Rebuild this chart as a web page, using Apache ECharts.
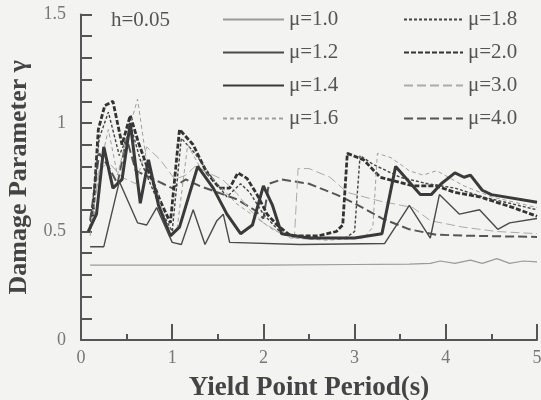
<!DOCTYPE html>
<html>
<head>
<meta charset="utf-8">
<script src="https://cdn.jsdelivr.net/npm/echarts@6/dist/echarts.min.js"></script>
<style>
  html, body { margin: 0; padding: 0; background: #f3f3f1; }
  #chart { width: 541px; height: 400px; }
</style>
</head>
<body>
<div id="chart"></div>
<script>
// Damage parameter gamma versus yield point period, h = 0.05
const names = ['μ=1.0', 'μ=1.2', 'μ=1.4', 'μ=1.6', 'μ=1.8', 'μ=2.0', 'μ=3.0', 'μ=4.0'];

const periodMu10 = [0.1, 1.0, 2.0, 3.0, 3.6, 3.83, 3.94, 4.1, 4.27, 4.4, 4.56, 4.7, 4.85, 5.0];
const gammaMu10  = [0.345, 0.345, 0.345, 0.348, 0.35, 0.353, 0.364, 0.353, 0.368, 0.353, 0.375, 0.353, 0.364, 0.36];

const periodMu12 = [0.1, 0.25, 0.42, 0.62, 0.72, 0.83, 1.0, 1.1, 1.23, 1.36, 1.49, 1.56, 1.63, 2.4, 3.33, 3.6, 3.83, 3.93, 4.15, 4.37, 4.57, 4.7, 5.0];
const gammaMu12  = [0.43, 0.43, 0.73, 0.54, 0.53, 0.61, 0.45, 0.44, 0.6, 0.44, 0.55, 0.58, 0.45, 0.44, 0.445, 0.62, 0.47, 0.67, 0.58, 0.6, 0.51, 0.54, 0.56];

const periodMu14 = [0.08, 0.17, 0.25, 0.35, 0.45, 0.54, 0.65, 0.74, 0.85, 0.98, 1.08, 1.28, 1.45, 1.6, 1.75, 1.88, 2.0, 2.1, 2.2, 2.5, 3.0, 3.3, 3.45, 3.72, 3.84, 3.95, 4.1, 4.2, 4.27, 4.4, 4.5, 5.0];
const gammaMu14  = [0.5, 0.58, 0.89, 0.70, 0.74, 1.0, 0.63, 0.83, 0.62, 0.48, 0.52, 0.8, 0.7, 0.58, 0.49, 0.53, 0.71, 0.62, 0.49, 0.47, 0.47, 0.49, 0.80, 0.67, 0.67, 0.72, 0.77, 0.75, 0.76, 0.69, 0.67, 0.635];

const periodMu16 = [0.1, 0.2, 0.3, 0.4, 0.5, 0.62, 0.72, 0.82, 0.95, 1.05, 1.17, 1.3, 1.5, 1.7, 1.9, 2.1, 2.3, 2.7, 3.1, 3.2, 3.25, 3.4, 3.6, 3.75, 3.9, 4.2, 4.5, 5.0];
const gammaMu16  = [0.48, 0.78, 0.97, 0.76, 0.93, 1.11, 0.82, 0.70, 0.52, 0.50, 0.90, 0.80, 0.72, 0.63, 0.57, 0.51, 0.47, 0.46, 0.47, 0.52, 0.86, 0.84, 0.78, 0.76, 0.78, 0.71, 0.66, 0.61];

const periodMu18 = [0.1, 0.2, 0.3, 0.42, 0.55, 0.65, 0.78, 0.9, 1.0, 1.1, 1.25, 1.45, 1.6, 1.75, 1.85, 2.0, 2.2, 2.5, 2.9, 3.0, 3.06, 3.2, 3.5, 3.8, 4.1, 4.4, 4.7, 5.0];
const gammaMu18  = [0.52, 0.93, 1.05, 0.85, 0.98, 0.83, 0.70, 0.58, 0.50, 0.93, 0.86, 0.74, 0.66, 0.72, 0.68, 0.58, 0.49, 0.47, 0.47, 0.50, 0.85, 0.81, 0.75, 0.72, 0.70, 0.66, 0.63, 0.60];

const periodMu20 = [0.13, 0.19, 0.26, 0.35, 0.45, 0.54, 0.63, 0.74, 0.87, 0.98, 1.08, 1.23, 1.38, 1.52, 1.63, 1.72, 1.82, 1.93, 2.04, 2.15, 2.3, 2.6, 2.8, 2.87, 2.92, 3.1, 3.28, 3.64, 3.9, 4.1, 4.37, 4.74, 5.0];
const gammaMu20  = [0.57, 0.97, 1.08, 1.10, 0.90, 1.035, 0.91, 0.78, 0.64, 0.54, 0.97, 0.90, 0.77, 0.70, 0.70, 0.77, 0.745, 0.67, 0.58, 0.53, 0.48, 0.48, 0.50, 0.53, 0.86, 0.83, 0.75, 0.71, 0.71, 0.68, 0.66, 0.61, 0.57];

const periodMu30 = [0.1, 0.2, 0.3, 0.45, 0.6, 0.72, 0.87, 1.03, 1.15, 1.25, 1.4, 1.55, 1.7, 1.85, 2.0, 2.2, 2.34, 2.38, 2.5, 2.73, 2.92, 3.28, 3.64, 3.83, 4.19, 4.56, 5.0];
const gammaMu30  = [0.50, 0.78, 0.82, 0.75, 0.72, 0.89, 0.83, 0.74, 0.76, 0.80, 0.77, 0.74, 0.68, 0.60, 0.54, 0.49, 0.47, 0.79, 0.79, 0.75, 0.68, 0.64, 0.61, 0.55, 0.52, 0.50, 0.49];

const periodMu40 = [0.1, 0.2, 0.3, 0.4, 0.5, 0.6, 0.75, 0.9, 1.0, 1.15, 1.3, 1.5, 1.7, 1.9, 2.0, 2.06, 2.2, 2.5, 2.8, 3.0, 3.3, 3.6, 3.9, 4.3, 5.0];
const gammaMu40  = [0.55, 0.86, 0.80, 0.72, 0.93, 0.78, 0.75, 0.72, 0.70, 0.74, 0.71, 0.68, 0.65, 0.60, 0.56, 0.72, 0.74, 0.72, 0.67, 0.63, 0.56, 0.51, 0.485, 0.48, 0.475];

const xTicks = [0, 1, 2, 3, 4, 5];
const yTicks = [0, 0.5, 1, 1.5];

const periods = [periodMu10, periodMu12, periodMu14, periodMu16, periodMu18, periodMu20, periodMu30, periodMu40];
const gammas  = [gammaMu10, gammaMu12, gammaMu14, gammaMu16, gammaMu18, gammaMu20, gammaMu30, gammaMu40];

// line appearance per ductility level
const styles = [
  { color: '#9a9a9a', width: 1.2, type: 'solid' },
  { color: '#4a4a4a', width: 1.4, type: 'solid' },
  { color: '#3a3a3a', width: 3,   type: 'solid' },
  { color: '#a0a0a0', width: 1,   type: [4, 3] },
  { color: '#444444', width: 1.4, type: [3, 2] },
  { color: '#333333', width: 2.8, type: [5, 2] },
  { color: '#ababab', width: 1,   type: [9, 4] },
  { color: '#555555', width: 2,   type: [9, 4] }
];

const serif = '"Liberation Serif", "Times New Roman", serif';

const series = names.map((name, i) => ({
  name: name,
  type: 'line',
  symbol: 'none',
  data: periods[i].map((t, k) => [t, gammas[i][k]]),
  lineStyle: { color: styles[i].color, width: styles[i].width, type: styles[i].type },
  itemStyle: { color: styles[i].color },
  z: 10 - i
}));

// legend shows only the line sample, no marker
const legendCommon = {
  orient: 'vertical',
  padding: 0,
  itemHeight: 14,
  itemGap: 12,
  itemStyle: { opacity: 0 },
  textStyle: { fontFamily: serif, fontSize: 21, color: '#555' },
  selectedMode: false
};

const chart = echarts.init(document.getElementById('chart'));
chart.setOption({
  animation: false,
  backgroundColor: '#f3f3f1',
  title: {
    text: 'h=0.05',
    left: 106,
    top: 5,
    textStyle: { fontFamily: serif, fontSize: 21, fontWeight: 'normal', color: '#555' }
  },
  legend: [
    Object.assign({}, legendCommon, { data: names.slice(0, 4), left: 222, top: 9, itemWidth: 61 }),
    Object.assign({}, legendCommon, { data: names.slice(4), left: 403, top: 9, itemWidth: 59 })
  ],
  grid: { left: 81, right: 4, top: 14.5, bottom: 60, outerBoundsMode: 'none', containLabel: false },
  xAxis: {
    type: 'value',
    min: xTicks[0],
    max: xTicks[xTicks.length - 1],
    interval: 1,
    name: 'Yield Point Period(s)',
    nameLocation: 'middle',
    nameGap: 35,
    nameTextStyle: { fontFamily: serif, fontSize: 27, fontWeight: 'bold', color: '#444' },
    axisLine: { lineStyle: { color: '#555', width: 2 } },
    axisTick: { inside: true, length: 16, lineStyle: { color: '#555', width: 2 } },
    minorTick: { show: true, splitNumber: 2, length: 6, lineStyle: { color: '#555', width: 2 } },
    axisLabel: { fontFamily: serif, fontSize: 18, color: '#777', margin: 9 },
    splitLine: { show: false }
  },
  yAxis: {
    type: 'value',
    min: yTicks[0],
    max: yTicks[yTicks.length - 1],
    interval: 0.5,
    name: 'Damage Parameter γ',
    nameLocation: 'middle',
    nameGap: 48,
    nameTextStyle: { fontFamily: serif, fontSize: 26, fontWeight: 'bold', color: '#444' },
    axisLine: { lineStyle: { color: '#555', width: 2 } },
    axisTick: { inside: true, length: 11, lineStyle: { color: '#555', width: 2 } },
    minorTick: { show: true, splitNumber: 5, length: 11, lineStyle: { color: '#555', width: 2 } },
    axisLabel: { fontFamily: serif, fontSize: 18, color: '#777', margin: 15 },
    splitLine: { show: false }
  },
  series: series
});
</script>
</body>
</html>
